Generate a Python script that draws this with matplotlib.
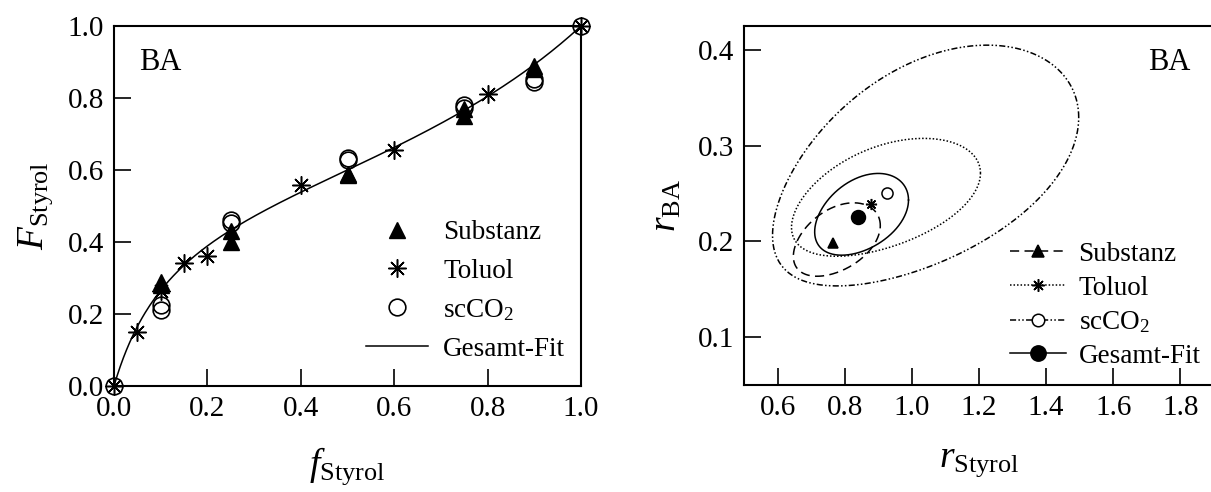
import numpy as np
import matplotlib
matplotlib.use("Agg")
import matplotlib.pyplot as plt

plt.rcParams["font.family"] = ["Liberation Serif", "DejaVu Serif"]
plt.rcParams["mathtext.fontset"] = "custom"
plt.rcParams["mathtext.rm"] = "Liberation Serif"
plt.rcParams["mathtext.it"] = "Liberation Serif:italic"

# --- left panel: copolymer composition ---
f_sub = [0.1, 0.1, 0.25, 0.25, 0.5, 0.5, 0.75, 0.75, 0.9, 0.9]
F_sub = [0.29, 0.28, 0.43, 0.40, 0.59, 0.585, 0.77, 0.75, 0.89, 0.88]
f_tol = [0.0, 0.05, 0.1, 0.15, 0.2, 0.4, 0.6, 0.8, 1.0]
F_tol = [0.0, 0.15, 0.265, 0.343, 0.361, 0.558, 0.656, 0.81, 1.0]
f_sc = [0.0, 0.1, 0.1, 0.25, 0.25, 0.5, 0.5, 0.75, 0.75, 0.9, 0.9, 1.0]
F_sc = [0.0, 0.225, 0.212, 0.461, 0.452, 0.632, 0.627, 0.78, 0.772, 0.852, 0.845, 1.0]

# --- right panel: reactivity ratios (point estimates) ---
labels = ["Substanz", "Toluol", "scCO$_2$", "Gesamt-Fit"]
r_sty = [0.766, 0.879, 0.927, 0.839]
r_ba = [0.198, 0.2386, 0.251, 0.225]
# confidence regions: extents in r_Styrol / r_BA and correlation
ell_xmin = [0.647, 0.6415, 0.585, 0.7105]
ell_xmax = [0.906, 1.2044, 1.497, 0.99]
ell_ymin = [0.1636, 0.1845, 0.1535, 0.1856]
ell_ymax = [0.2403, 0.3076, 0.405, 0.271]
ell_rho = [0.42, 0.46, 0.49, 0.39]

styles = [(0, (6, 3.5)), (0, (1, 1.3)), (0, (4, 1.5, 1, 1.5, 1, 1.5)), "-"]
markers = ["^", (8, 2, 0), "o", "o"]
mfaces = ["black", "black", "white", "black"]
msizes = [7, 8, 8, 10]


def mayo_lewis(f1, r1, r2):
    f2 = 1 - f1
    return (r1 * f1**2 + f1 * f2) / (r1 * f1**2 + 2 * f1 * f2 + r2 * f2**2)


def region(xmin, xmax, ymin, ymax, rho):
    t = np.linspace(0, 2 * np.pi, 400)
    sx0, sx1 = np.sqrt(xmin), np.sqrt(xmax)
    sy0, sy1 = np.sqrt(ymin), np.sqrt(ymax)
    u = (sx0 + sx1) / 2 + (sx1 - sx0) / 2 * np.cos(t)
    v = (sy0 + sy1) / 2 + (sy1 - sy0) / 2 * np.cos(t - np.arccos(rho))
    return u**2, v**2


fig = plt.figure(figsize=(12.11, 4.92), dpi=100)
ax1 = fig.add_axes([114 / 1211, 106 / 492, 467 / 1211, 360 / 492])
ax2 = fig.add_axes([744 / 1211, 107 / 492, 470 / 1211, 359 / 492])

for ax in (ax1, ax2):
    for s in ax.spines.values():
        s.set_linewidth(1.5)
    ax.tick_params(direction="in", length=12, width=1.2, labelsize=21, pad=7,
                   top=False, right=False)

# left
fc = np.linspace(0, 1, 300)
ax1.plot(fc, mayo_lewis(fc, r_sty[3], r_ba[3]), color="black", lw=1.1,
         label="Gesamt-Fit")
ax1.plot(f_sub, F_sub, "^", color="black", ms=11, ls="none", label="Substanz",
         clip_on=False)
ax1.plot(f_tol, F_tol, marker=(8, 2, 0), color="black", ms=13, mew=1.1,
         ls="none", label="Toluol", clip_on=False)
ax1.plot(f_sc, F_sc, "o", mfc="none", mec="black", ms=12, mew=1.2, ls="none",
         label="scCO$_2$", clip_on=False)
ax1.set_xlim(0, 1)
ax1.set_ylim(0, 1)
ax1.set_xticks(np.arange(0, 1.01, 0.2))
ax1.set_yticks(np.arange(0, 1.01, 0.2))
ax1.xaxis.set_major_formatter(matplotlib.ticker.FormatStrFormatter("%.1f"))
ax1.yaxis.set_major_formatter(matplotlib.ticker.FormatStrFormatter("%.1f"))
ax1.set_xlabel(r"$f_{\mathrm{Styrol}}$", fontsize=27, labelpad=17)
ax1.set_ylabel(r"$F_{\mathrm{Styrol}}$", fontsize=27, labelpad=9)
ax1.text(0.1, 0.9, "BA", transform=ax1.transAxes, fontsize=22,
         ha="center", va="center")
h, l = ax1.get_legend_handles_labels()
order = [1, 2, 3, 0]
ax1.legend([h[i] for i in order], [l[i] for i in order], loc="lower left",
           bbox_to_anchor=(0.54, 0.068), frameon=False, fontsize=19.5,
           handlelength=2.3, handletextpad=0.55, labelspacing=0.5,
           borderpad=0, borderaxespad=0)

# right
for i in range(4):
    ex, ey = region(ell_xmin[i], ell_xmax[i], ell_ymin[i], ell_ymax[i], ell_rho[i])
    ax2.plot(ex, ey, color="black", lw=1.1, ls=styles[i])
    ax2.plot([r_sty[i]], [r_ba[i]], ls="none", marker=markers[i], ms=msizes[i],
             mfc=mfaces[i], mec="black", mew=1.1, zorder=3)
    ax2.plot([], [], color="black", lw=1.1, ls=styles[i], marker=markers[i],
             ms=msizes[i] + 1, mfc=mfaces[i], mec="black", mew=1.1,
             label=labels[i])
ax2.set_xlim(0.5, 1.9)
ax2.set_ylim(0.05, 0.425)
ax2.set_xticks([0.6, 0.8, 1.0, 1.2, 1.4, 1.6, 1.8])
ax2.set_yticks([0.1, 0.2, 0.3, 0.4])
ax2.xaxis.set_major_formatter(matplotlib.ticker.FormatStrFormatter("%.1f"))
ax2.yaxis.set_major_formatter(matplotlib.ticker.FormatStrFormatter("%.1f"))
ax2.spines["right"].set_visible(False)
ax2.set_xlabel(r"$r_{\mathrm{Styrol}}$", fontsize=27, labelpad=17)
ax2.set_ylabel(r"$r_{\mathrm{BA}}$", fontsize=27, labelpad=10)
ax2.text(1.767, 0.3867, "BA", fontsize=22, ha="center", va="center")
ax2.legend(loc="lower left", bbox_to_anchor=(0.565, 0.045), frameon=False,
           fontsize=19.5, handlelength=2.1, handletextpad=0.45,
           labelspacing=0.32, borderpad=0, borderaxespad=0)

fig.savefig("out.png", dpi=100)
